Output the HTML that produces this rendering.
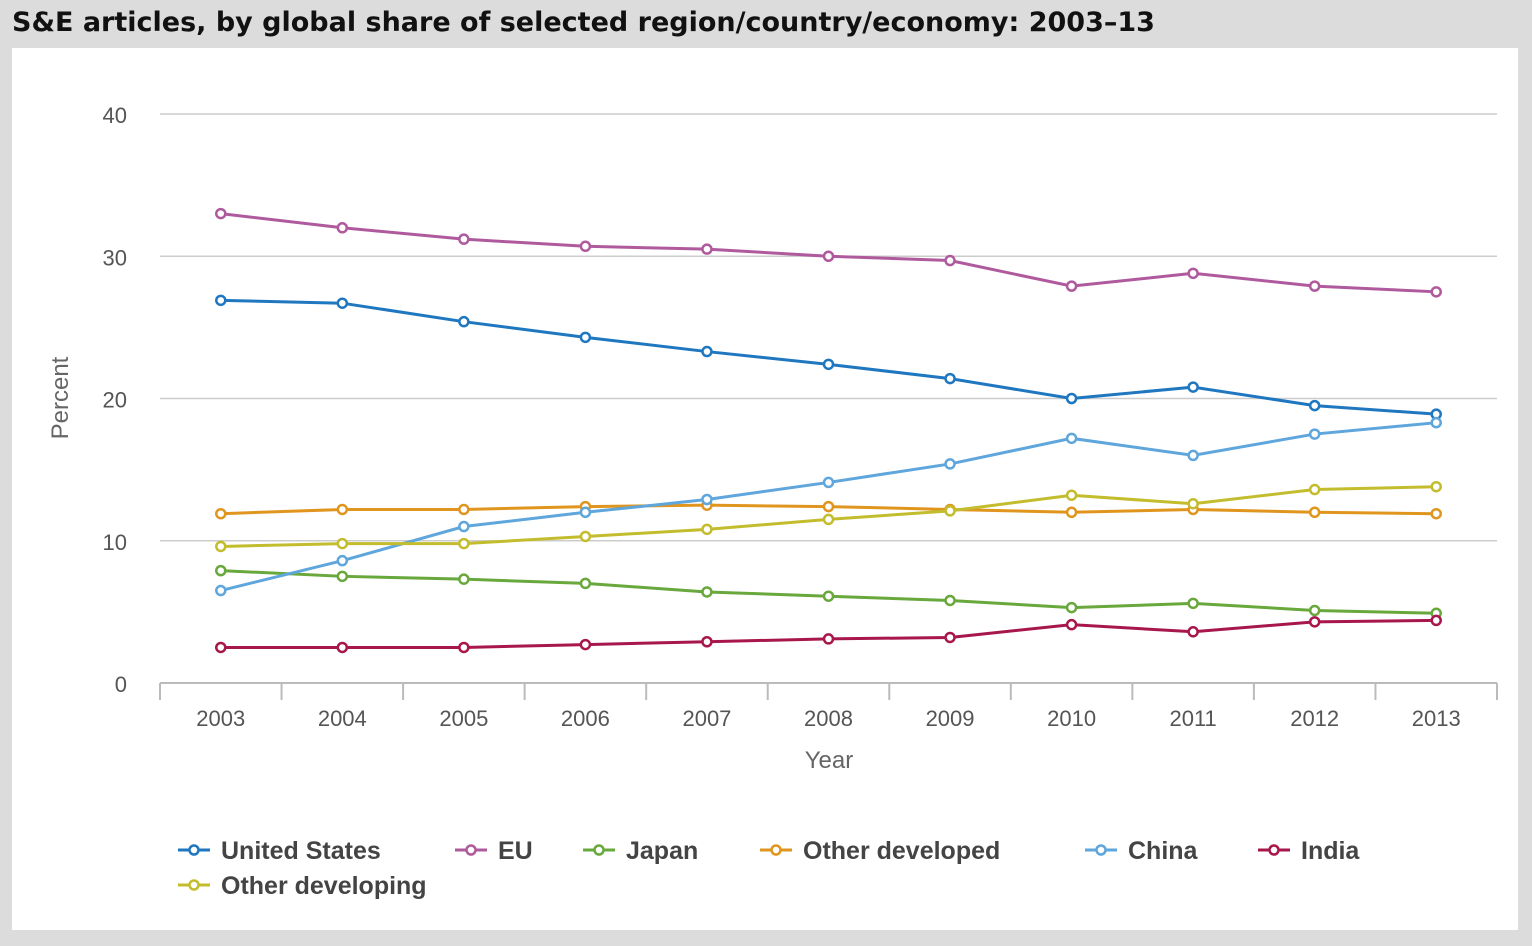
<!DOCTYPE html>
<html><head><meta charset="utf-8"><style>
body{margin:0;width:1532px;height:946px;background:#dcdcdc;font-family:"Liberation Sans",sans-serif;overflow:hidden}
#title{position:absolute;left:12px;top:7px;font-family:"DejaVu Sans","Liberation Sans",sans-serif;font-weight:bold;font-size:27px;color:#111}
#panel{position:absolute;left:12px;top:48px;width:1506px;height:882px;background:#fff}
svg{position:absolute;left:0;top:0}
</style></head><body>
<div id="title">S&amp;E articles, by global share of selected region/country/economy: 2003–13</div>
<div id="panel"></div>
<svg id="chart" width="1532" height="946"></svg>
<script>
const years=[2003,2004,2005,2006,2007,2008,2009,2010,2011,2012,2013];
const yTicks=[0,10,20,30,40];
const seriesNames=["United States","EU","Japan","Other developed","China","India","Other developing"];
const seriesColors=["#1f77c0","#b05a9e","#68a83c","#e0961e","#5ea6dc","#a8174c","#c3bd2e"];
const usVals=[26.9,26.7,25.4,24.3,23.3,22.4,21.4,20.0,20.8,19.5,18.9];
const euVals=[33.0,32.0,31.2,30.7,30.5,30.0,29.7,27.9,28.8,27.9,27.5];
const japanVals=[7.9,7.5,7.3,7.0,6.4,6.1,5.8,5.3,5.6,5.1,4.9];
const otherDevVals=[11.9,12.2,12.2,12.4,12.5,12.4,12.2,12.0,12.2,12.0,11.9];
const chinaVals=[6.5,8.6,11.0,12.0,12.9,14.1,15.4,17.2,16.0,17.5,18.3];
const indiaVals=[2.5,2.5,2.5,2.7,2.9,3.1,3.2,4.1,3.6,4.3,4.4];
const otherDevingVals=[9.6,9.8,9.8,10.3,10.8,11.5,12.1,13.2,12.6,13.6,13.8];
const allVals=[usVals,euVals,japanVals,otherDevVals,chinaVals,indiaVals,otherDevingVals];

const svg=document.getElementById('chart');
const NS='http://www.w3.org/2000/svg';
const X0=160,X1=1497,Y0=683,Y1=114;
const band=(X1-X0)/years.length;
const xs=i=>X0+band*(i+0.5);
const ys=v=>Y0-(v-0)/(40-0)*(Y0-Y1);
function mk(tag,attrs,txt){const e=document.createElementNS(NS,tag);for(const k in attrs)e.setAttribute(k,attrs[k]);if(txt!==undefined)e.textContent=txt;svg.appendChild(e);return e;}

yTicks.forEach(t=>{
  if(t>0){const g=mk('line',{x1:X0,x2:X1,y1:ys(t),y2:ys(t),stroke:'#cccccc','stroke-width':1.5});
  
  }
  const l=mk('text',{x:127,y:ys(t)+9,'text-anchor':'end','font-size':22,fill:'#555'},t);
  
  
});
const ax=mk('line',{x1:X0,x2:X1,y1:Y0,y2:Y0,stroke:'#bbb','stroke-width':2});


for(let i=0;i<=years.length;i++){
  const tk=mk('line',{x1:X0+band*i,x2:X0+band*i,y1:Y0,y2:Y0+17,stroke:'#bbb','stroke-width':2});
  
  
}
years.forEach((yr,i)=>{
  const l=mk('text',{x:xs(i),y:726,'text-anchor':'middle','font-size':22,fill:'#555'},yr);
  
  
});
const xt=mk('text',{x:829,y:768,'text-anchor':'middle','font-size':24,fill:'#666'},'Year');


const yt=mk('text',{x:68,y:398,'text-anchor':'middle','font-size':24,fill:'#666',transform:'rotate(-90 68 398)'},'Percent');



allVals.forEach((vals,s)=>{
  const p=mk('polyline',{points:vals.map((v,i)=>xs(i)+','+ys(v)).join(' '),fill:'none',stroke:seriesColors[s],'stroke-width':3});
  
  
  vals.forEach((v,i)=>{
    const c=mk('circle',{cx:xs(i),cy:ys(v),r:4.5,fill:'#fff',stroke:seriesColors[s],'stroke-width':2.5});
    
    
  });
});

const legPos=[[178,850],[455,850],[583,850],[760,850],[1085,850],[1258,850],[178,885]];
seriesNames.forEach((n,s)=>{
  const [lx,ly]=legPos[s];
  const l=mk('line',{x1:lx,x2:lx+32,y1:ly,y2:ly,stroke:seriesColors[s],'stroke-width':3});
  
  
  const c=mk('circle',{cx:lx+16,cy:ly,r:4.5,fill:'#fff',stroke:seriesColors[s],'stroke-width':2.5});
  
  
  const t=mk('text',{x:lx+43,y:ly+9,'font-size':25,'font-weight':'bold',fill:'#444'},n);
  
  
});
</script>
</body></html>
